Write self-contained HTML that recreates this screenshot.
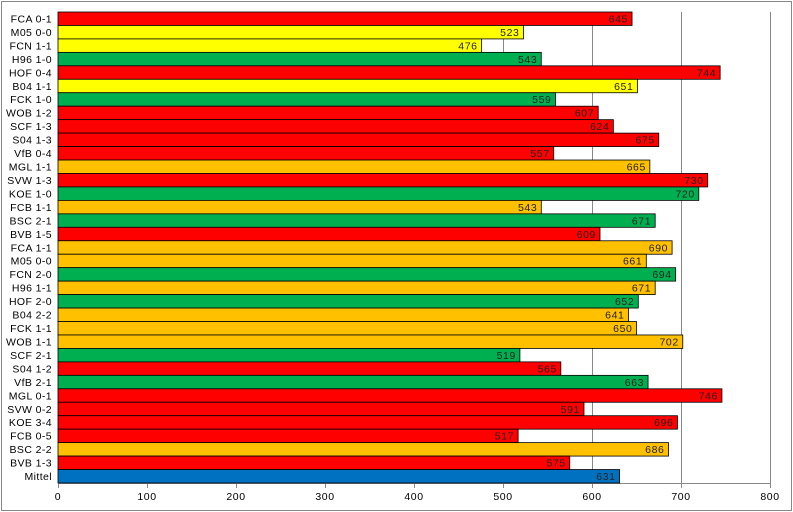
<!DOCTYPE html>
<html><head><meta charset="utf-8"><style>
html,body{margin:0;padding:0;background:#fff;}
svg{display:block;font-family:"Liberation Sans",sans-serif;}
.l{font-size:10.5px;text-anchor:end;fill:#000;letter-spacing:0.4px}
.v{font-size:10.5px;text-anchor:end;fill:#222;letter-spacing:0.6px}
.t{font-size:10.5px;text-anchor:middle;fill:#000;letter-spacing:0.6px}
rect.b{stroke:#000;stroke-width:0.8}
</style></head><body>
<svg width="793" height="512" viewBox="0 0 793 512">
<rect x="1.5" y="1.5" width="790" height="509" fill="#fff" stroke="#888"/>
<g stroke="#888" stroke-width="1">
<line x1="147.5" y1="12" x2="147.5" y2="488"/><line x1="236.5" y1="12" x2="236.5" y2="488"/>
<line x1="325.5" y1="12" x2="325.5" y2="488"/><line x1="414.5" y1="12" x2="414.5" y2="488"/>
<line x1="503.5" y1="12" x2="503.5" y2="488"/><line x1="592.5" y1="12" x2="592.5" y2="488"/>
<line x1="681.5" y1="12" x2="681.5" y2="488"/><line x1="770.5" y1="12" x2="770.5" y2="488"/>
<line x1="58.5" y1="12" x2="58.5" y2="488"/><line x1="58" y1="483.5" x2="771" y2="483.5"/>
</g>
<g transform="translate(0,12)"><rect class="b" x="58" y="0" width="574.05" height="13.46" fill="#FF0000"/><text class="l" x="52" y="10.5">FCA 0-1</text><text class="v" x="628" y="10.5">645</text></g>
<g transform="translate(0,25.46)"><rect class="b" x="58" y="0" width="465.47" height="13.46" fill="#FFFF00"/><text class="l" x="52" y="10.5">M05 0-0</text><text class="v" x="519.5" y="10.5">523</text></g>
<g transform="translate(0,38.91)"><rect class="b" x="58" y="0" width="423.64" height="13.46" fill="#FFFF00"/><text class="l" x="52" y="10.5">FCN 1-1</text><text class="v" x="477.6" y="10.5">476</text></g>
<g transform="translate(0,52.37)"><rect class="b" x="58" y="0" width="483.27" height="13.46" fill="#00B050"/><text class="l" x="52" y="10.5">H96 1-0</text><text class="v" x="537.3" y="10.5">543</text></g>
<g transform="translate(0,65.83)"><rect class="b" x="58" y="0" width="662.16" height="13.46" fill="#FF0000"/><text class="l" x="52" y="10.5">HOF 0-4</text><text class="v" x="716.2" y="10.5">744</text></g>
<g transform="translate(0,79.29)"><rect class="b" x="58" y="0" width="579.39" height="13.46" fill="#FFFF00"/><text class="l" x="52" y="10.5">B04 1-1</text><text class="v" x="633.4" y="10.5">651</text></g>
<g transform="translate(0,92.74)"><rect class="b" x="58" y="0" width="497.51" height="13.46" fill="#00B050"/><text class="l" x="52" y="10.5">FCK 1-0</text><text class="v" x="551.5" y="10.5">559</text></g>
<g transform="translate(0,106.2)"><rect class="b" x="58" y="0" width="540.23" height="13.46" fill="#FF0000"/><text class="l" x="52" y="10.5">WOB 1-2</text><text class="v" x="594.2" y="10.5">607</text></g>
<g transform="translate(0,119.66)"><rect class="b" x="58" y="0" width="555.36" height="13.46" fill="#FF0000"/><text class="l" x="52" y="10.5">SCF 1-3</text><text class="v" x="609.4" y="10.5">624</text></g>
<g transform="translate(0,133.11)"><rect class="b" x="58" y="0" width="600.75" height="13.46" fill="#FF0000"/><text class="l" x="52" y="10.5">S04 1-3</text><text class="v" x="654.8" y="10.5">675</text></g>
<g transform="translate(0,146.57)"><rect class="b" x="58" y="0" width="495.73" height="13.46" fill="#FF0000"/><text class="l" x="52" y="10.5">VfB 0-4</text><text class="v" x="549.7" y="10.5">557</text></g>
<g transform="translate(0,160.03)"><rect class="b" x="58" y="0" width="591.85" height="13.46" fill="#FFC000"/><text class="l" x="52" y="10.5">MGL 1-1</text><text class="v" x="645.9" y="10.5">665</text></g>
<g transform="translate(0,173.48)"><rect class="b" x="58" y="0" width="649.7" height="13.46" fill="#FF0000"/><text class="l" x="52" y="10.5">SVW 1-3</text><text class="v" x="703.7" y="10.5">730</text></g>
<g transform="translate(0,186.94)"><rect class="b" x="58" y="0" width="640.8" height="13.46" fill="#00B050"/><text class="l" x="52" y="10.5">KOE 1-0</text><text class="v" x="694.8" y="10.5">720</text></g>
<g transform="translate(0,200.4)"><rect class="b" x="58" y="0" width="483.27" height="13.46" fill="#FFC000"/><text class="l" x="52" y="10.5">FCB 1-1</text><text class="v" x="537.3" y="10.5">543</text></g>
<g transform="translate(0,213.86)"><rect class="b" x="58" y="0" width="597.19" height="13.46" fill="#00B050"/><text class="l" x="52" y="10.5">BSC 2-1</text><text class="v" x="651.2" y="10.5">671</text></g>
<g transform="translate(0,227.31)"><rect class="b" x="58" y="0" width="542.01" height="13.46" fill="#FF0000"/><text class="l" x="52" y="10.5">BVB 1-5</text><text class="v" x="596" y="10.5">609</text></g>
<g transform="translate(0,240.77)"><rect class="b" x="58" y="0" width="614.1" height="13.46" fill="#FFC000"/><text class="l" x="52" y="10.5">FCA 1-1</text><text class="v" x="668.1" y="10.5">690</text></g>
<g transform="translate(0,254.23)"><rect class="b" x="58" y="0" width="588.29" height="13.46" fill="#FFC000"/><text class="l" x="52" y="10.5">M05 0-0</text><text class="v" x="642.3" y="10.5">661</text></g>
<g transform="translate(0,267.68)"><rect class="b" x="58" y="0" width="617.66" height="13.46" fill="#00B050"/><text class="l" x="52" y="10.5">FCN 2-0</text><text class="v" x="671.7" y="10.5">694</text></g>
<g transform="translate(0,281.14)"><rect class="b" x="58" y="0" width="597.19" height="13.46" fill="#FFC000"/><text class="l" x="52" y="10.5">H96 1-1</text><text class="v" x="651.2" y="10.5">671</text></g>
<g transform="translate(0,294.6)"><rect class="b" x="58" y="0" width="580.28" height="13.46" fill="#00B050"/><text class="l" x="52" y="10.5">HOF 2-0</text><text class="v" x="634.3" y="10.5">652</text></g>
<g transform="translate(0,308.05)"><rect class="b" x="58" y="0" width="570.49" height="13.46" fill="#FFC000"/><text class="l" x="52" y="10.5">B04 2-2</text><text class="v" x="624.5" y="10.5">641</text></g>
<g transform="translate(0,321.51)"><rect class="b" x="58" y="0" width="578.5" height="13.46" fill="#FFC000"/><text class="l" x="52" y="10.5">FCK 1-1</text><text class="v" x="632.5" y="10.5">650</text></g>
<g transform="translate(0,334.97)"><rect class="b" x="58" y="0" width="624.78" height="13.46" fill="#FFC000"/><text class="l" x="52" y="10.5">WOB 1-1</text><text class="v" x="678.8" y="10.5">702</text></g>
<g transform="translate(0,348.43)"><rect class="b" x="58" y="0" width="461.91" height="13.46" fill="#00B050"/><text class="l" x="52" y="10.5">SCF 2-1</text><text class="v" x="515.9" y="10.5">519</text></g>
<g transform="translate(0,361.88)"><rect class="b" x="58" y="0" width="502.85" height="13.46" fill="#FF0000"/><text class="l" x="52" y="10.5">S04 1-2</text><text class="v" x="556.9" y="10.5">565</text></g>
<g transform="translate(0,375.34)"><rect class="b" x="58" y="0" width="590.07" height="13.46" fill="#00B050"/><text class="l" x="52" y="10.5">VfB 2-1</text><text class="v" x="644.1" y="10.5">663</text></g>
<g transform="translate(0,388.8)"><rect class="b" x="58" y="0" width="663.94" height="13.46" fill="#FF0000"/><text class="l" x="52" y="10.5">MGL 0-1</text><text class="v" x="717.9" y="10.5">746</text></g>
<g transform="translate(0,402.25)"><rect class="b" x="58" y="0" width="525.99" height="13.46" fill="#FF0000"/><text class="l" x="52" y="10.5">SVW 0-2</text><text class="v" x="580" y="10.5">591</text></g>
<g transform="translate(0,415.71)"><rect class="b" x="58" y="0" width="619.44" height="13.46" fill="#FF0000"/><text class="l" x="52" y="10.5">KOE 3-4</text><text class="v" x="673.4" y="10.5">696</text></g>
<g transform="translate(0,429.17)"><rect class="b" x="58" y="0" width="460.13" height="13.46" fill="#FF0000"/><text class="l" x="52" y="10.5">FCB 0-5</text><text class="v" x="514.1" y="10.5">517</text></g>
<g transform="translate(0,442.62)"><rect class="b" x="58" y="0" width="610.54" height="13.46" fill="#FFC000"/><text class="l" x="52" y="10.5">BSC 2-2</text><text class="v" x="664.5" y="10.5">686</text></g>
<g transform="translate(0,456.08)"><rect class="b" x="58" y="0" width="511.75" height="13.46" fill="#FF0000"/><text class="l" x="52" y="10.5">BVB 1-3</text><text class="v" x="565.8" y="10.5">575</text></g>
<g transform="translate(0,469.54)"><rect class="b" x="58" y="0" width="561.59" height="13.46" fill="#0070C0"/><text class="l" x="52" y="10.5">Mittel</text><text class="v" x="615.6" y="10.5">631</text></g>
<text class="t" x="58" y="500">0</text><text class="t" x="147" y="500">100</text><text class="t" x="236" y="500">200</text>
<text class="t" x="325" y="500">300</text><text class="t" x="414" y="500">400</text><text class="t" x="503" y="500">500</text>
<text class="t" x="592" y="500">600</text><text class="t" x="681" y="500">700</text><text class="t" x="770" y="500">800</text>
</svg>
</body></html>
